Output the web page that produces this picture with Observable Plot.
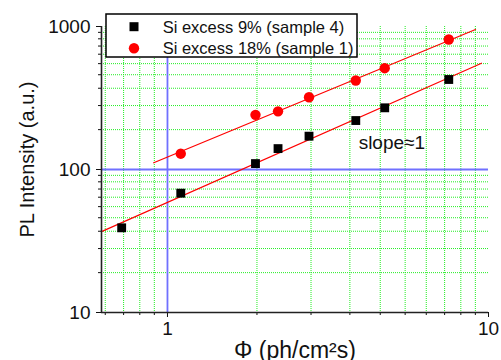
<!DOCTYPE html>
<html><head><meta charset="utf-8">
<script src="https://cdn.jsdelivr.net/npm/d3@7"></script>
<script src="https://cdn.jsdelivr.net/npm/@observablehq/plot@0.6"></script>
<style>body{margin:0;background:#fff;} #chart{width:501px;height:360px;overflow:hidden;}</style>
</head><body><div id="chart"></div>
<script>
// ---- data ----
const xValues4 = [0.72, 1.10, 1.88, 2.21, 2.76, 3.86, 4.75, 7.52];
const yValues4 = [39.1, 68.3, 110, 140, 171, 220, 270, 426];
const xValues1 = [1.10, 1.88, 2.21, 2.76, 3.86, 4.75, 7.52];
const yValues1 = [129, 241, 255, 320, 419, 511, 811];
const fit4X = [0.623, 9.51];
const fit4Y = [36.8, 554];
const fit1X = [0.906, 9.11];
const fit1Y = [111.4, 952];
const xDomain = [0.623, 10];
const yDomain = [10, 1000];
const xMajorTicks = [1, 10];
const xMinorTicks = [0.64, 0.73, 0.82, 0.91, 1.9, 2.8, 3.7, 4.6, 5.5, 6.4, 7.3, 8.2, 9.1];
const yMajorTicks = [10, 100, 1000];
const yMinorTicks = [19, 28, 37, 46, 55, 64, 73, 82, 91, 190, 280, 370, 460, 550, 640, 730, 820, 910];
const seriesNames = ["Si excess 9% (sample 4)", "Si excess 18% (sample 1)"];
const annotationText = ["slope\u22481"];
const annotationX = [3.94];
const annotationY = [140];
const xLabel = "\u03A6 (ph/cm\u00B2s)";
const yLabel = "PL Intensity (a.u.)";

// ---- tables ----
const s4 = xValues4.map((x, i) => ({x, y: yValues4[i]}));
const s1 = xValues1.map((x, i) => ({x, y: yValues1[i]}));
const f4 = fit4X.map((x, i) => ({x, y: fit4Y[i]}));
const f1 = fit1X.map((x, i) => ({x, y: fit1Y[i]}));
const ann = annotationText.map((t, i) => ({x: annotationX[i], y: annotationY[i], t}));

const font = "'Liberation Sans', Arial, sans-serif";
const grid = {stroke: "#22ee22", strokeDasharray: "1,1", strokeWidth: 1};
const blue = {stroke: "#7070ff", strokeWidth: 1.8};

const chart = Plot.plot({
  width: 501, height: 360,
  marginLeft: 101, marginRight: 13, marginTop: 26, marginBottom: 48,
  style: {fontFamily: font, fontSize: "19px", color: "#111", background: "#fff", overflow: "visible"},
  x: {type: "log", domain: xDomain},
  y: {type: "log", domain: yDomain},
  marks: [
    Plot.ruleX(xMinorTicks, grid),
    Plot.ruleY(yMinorTicks, grid),
    Plot.ruleX([xMajorTicks[0]], blue),
    Plot.ruleY([yMajorTicks[1]], blue),
    Plot.line(f4, {x: "x", y: "y", stroke: "#ff0000", strokeWidth: 1.2}),
    Plot.line(f1, {x: "x", y: "y", stroke: "#ff0000", strokeWidth: 1.2}),
    Plot.dot(s4, {x: "x", y: "y", symbol: "square", r: 5, fill: "#000"}),
    Plot.dot(s1, {x: "x", y: "y", symbol: "circle", r: 5.2, fill: "#ff0000"}),
    Plot.text(ann, {x: "x", y: "y", text: "t", textAnchor: "start", lineAnchor: "bottom", fontSize: 19, fill: "#111"}),
    Plot.axisX(xMajorTicks, {tickSize: 5, tickPadding: 4, tickFormat: d => String(d), label: null, fontSize: 19}),
    Plot.axisX(xMinorTicks, {tickSize: 3, tickFormat: () => "", label: null}),
    Plot.axisY(yMajorTicks, {tickSize: 5, tickPadding: 6, tickFormat: d => String(d), label: null, fontSize: 19}),
    Plot.axisY(yMinorTicks, {tickSize: 3, tickFormat: () => "", label: null}),
    Plot.ruleX([xDomain[0]], {stroke: "#222", strokeWidth: 1.6}),
    Plot.ruleY([yDomain[0]], {stroke: "#222", strokeWidth: 1.6}),
    Plot.text([xLabel], {text: d => d, frameAnchor: "bottom", textAnchor: "middle", dy: 45, lineAnchor: "bottom", fontSize: 23, fill: "#111"}),
    Plot.text([yLabel], {text: d => d, frameAnchor: "left", textAnchor: "middle", rotate: -90, dx: -68, dy: -10, lineAnchor: "bottom", fontSize: 20, fill: "#111"})
  ]
});

// legend box
const svg = d3.select(chart);
const lg = svg.append("g").attr("font-family", font).attr("font-size", 16.5).attr("fill", "#111").attr("text-anchor", "start");
lg.append("rect").attr("x", 106).attr("y", 14).attr("width", 251).attr("height", 43)
  .attr("fill", "#fff").attr("stroke", "#000").attr("stroke-width", 1.5);
lg.append("rect").attr("x", 129.5).attr("y", 22.2).attr("width", 9).attr("height", 9).attr("fill", "#000");
lg.append("circle").attr("cx", 134).attr("cy", 48.3).attr("r", 5.2).attr("fill", "#ff0000");
lg.append("text").attr("x", 162.7).attr("y", 32.7).text(seriesNames[0]);
lg.append("text").attr("x", 162.7).attr("y", 53.5).text(seriesNames[1]);

document.getElementById("chart").appendChild(chart);
</script>
</body></html>
